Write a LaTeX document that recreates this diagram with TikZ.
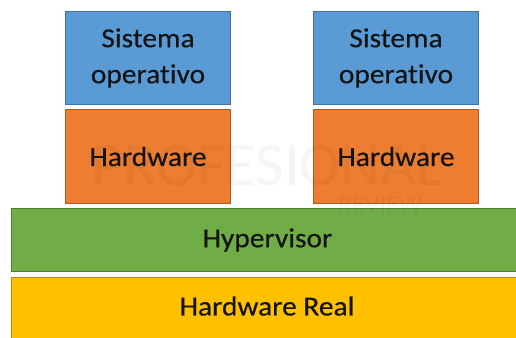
\documentclass[tikz,border=0pt]{standalone}
\usepackage{fontspec}
\setmainfont{Carlito}[FakeStretch=1.07,FakeBold=0.4,Ligatures=NoCommon]
\newfontfamily\wmfont{Carlito}[Ligatures=NoCommon]
\begin{document}
\begin{tikzpicture}[x=1pt,y=-1pt,
  layer/.style={draw, line width=1pt, rectangle, inner sep=0pt, anchor=north west,
    font=\fontsize{27.5}{36}\selectfont, text=black!92, align=center},
  osbox/.style={layer, fill=osblue, draw=osblueedge, minimum width=165pt, minimum height=93pt},
  hwbox/.style={layer, fill=hworange, draw=hworangeedge, minimum width=165pt, minimum height=94pt},
  wide/.style={layer, minimum width=512pt, minimum height=63pt},
  watermark/.style={font=\wmfont\fontsize{62}{62}\selectfont, text=black, opacity=0.04}
]
\definecolor{osblue}{HTML}{5B9BD5}
\definecolor{osblueedge}{HTML}{41719C}
\definecolor{hworange}{HTML}{ED7D31}
\definecolor{hworangeedge}{HTML}{AE5A21}
\definecolor{hypgreen}{HTML}{70AD47}
\definecolor{hypgreenedge}{HTML}{507E32}
\definecolor{realyellow}{HTML}{FFC000}
\definecolor{realyellowedge}{HTML}{BC8C00}

\useasboundingbox (0,0) rectangle (516,337);
\begin{scope}
\clip (0,0) rectangle (516,337);

% guest stacks
\node[osbox] (so1) at (65,11) {Sistema\\operativo};
\node[hwbox] (hw1) at (65,109) {Hardware};
\node[osbox] (so2) at (313,11) {Sistema\\operativo};
\node[hwbox] (hw2) at (313,109) {Hardware};

% shared layers
\node[wide, fill=hypgreen, draw=hypgreenedge] (hyp) at (11,208) {Hypervisor};
\node[wide, fill=realyellow, draw=realyellowedge, minimum height=70pt] (real) at (11,277) {};
\node[font=\fontsize{27.5}{36}\selectfont, text=black!92] (reallabel) at (267,306) {Hardware Real};

% faint watermark
\node[watermark] (wm) at (267,166) {PROFESIONAL};
\node[watermark, font=\wmfont\fontsize{26}{26}\selectfont] (wm2) at (380,205) {REVIEW};
\end{scope}
\end{tikzpicture}
\end{document}
